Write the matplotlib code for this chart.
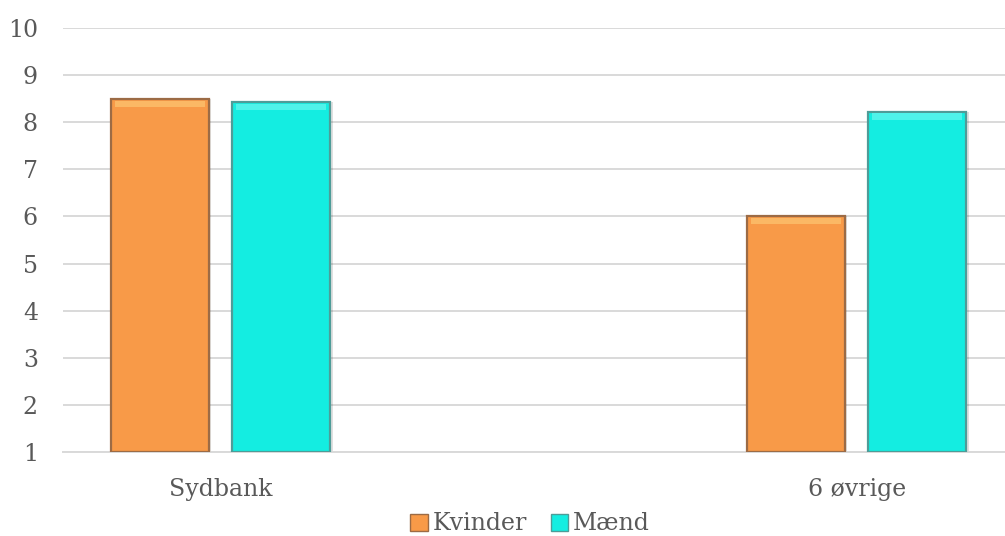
import numpy as np
import matplotlib.pyplot as plt
from matplotlib.patches import Patch

categories = ['Sydbank', '6 øvrige']
series = ['Kvinder', 'Mænd']
kvinder = [8.49, 6.0]
maend = [8.42, 8.22]
yticks = [1, 2, 3, 4, 5, 6, 7, 8, 9, 10]

colors = {'Kvinder': '#F89A48', 'Mænd': '#14EDE1'}
tops = {'Kvinder': '#FBB865', 'Mænd': '#4FF3EA'}
edges = {'Kvinder': '#9C6B45', 'Mænd': '#4E9C98'}

plt.rcParams['font.family'] = ['DejaVu Serif']

fig = plt.figure(figsize=(10.05, 5.36), dpi=100)
ax = fig.add_axes([63 / 1005, 84 / 536, 942 / 1005, 424 / 536])

x = np.arange(len(categories))
width = 0.154
offsets = {'Kvinder': -0.096, 'Mænd': 0.095}
values = {'Kvinder': kvinder, 'Mænd': maend}

for s in series:
    v = np.array(values[s])
    # soft shadow
    ax.bar(x + offsets[s] + 0.004, v - 1, width, bottom=1,
           color='#000000', alpha=0.12, zorder=2)
    ax.bar(x + offsets[s], v - 1, width, bottom=1,
           color=colors[s], edgecolor=edges[s], linewidth=1.6, zorder=3)
    # bevel highlight at the top
    ax.bar(x + offsets[s], 0.14, width * 0.92, bottom=v - 0.17,
           color=tops[s], linewidth=0, zorder=4)

ax.set_ylim(1, 10)
ax.set_xlim(-0.248, 1.233)
ax.set_yticks(yticks)
ax.set_yticklabels([str(t) for t in yticks], fontsize=17, color='#595959')
ax.set_xticks(x)
ax.set_xticklabels(categories, fontsize=17, color='#595959')
ax.tick_params(axis='x', length=0, pad=19)
ax.tick_params(axis='y', length=0, pad=18)
ax.yaxis.grid(True, color='#d9d9d9', linewidth=1.4)
ax.set_axisbelow(True)
for sp in ['top', 'right', 'left']:
    ax.spines[sp].set_visible(False)
ax.spines['bottom'].set_color('#d9d9d9')
ax.spines['bottom'].set_linewidth(1.4)

handles = [Patch(facecolor=colors[s], edgecolor=edges[s], label=s) for s in series]
fig.legend(handles=handles, loc='center', bbox_to_anchor=(530 / 1005, 1 - 524 / 536),
           ncol=2, frameon=False, fontsize=17, handlelength=0.75, handleheight=0.75,
           handletextpad=0.2, columnspacing=1.0, labelcolor='#595959')

fig.savefig('out.png', dpi=100)
